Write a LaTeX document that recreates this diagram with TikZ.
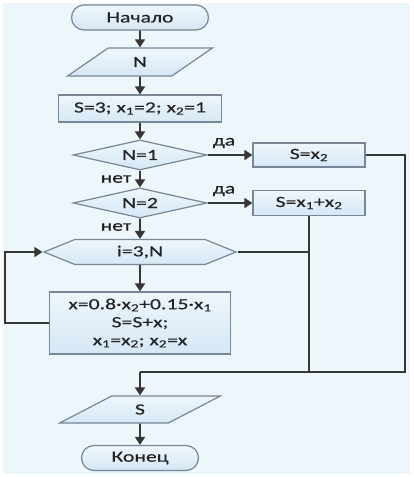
\documentclass[tikz,border=0pt]{standalone}
\usepackage{fontspec}
\setmainfont[FakeStretch=1.4,FakeBold=0.4]{Carlito}
\usetikzlibrary{arrows.meta,shapes.geometric,shapes.symbols,shapes.misc}
\definecolor{bg}{RGB}{236,246,251}
\definecolor{bord}{RGB}{120,134,150}
\definecolor{ln}{RGB}{55,55,55}
\definecolor{txt}{RGB}{35,35,35}
\definecolor{ftop}{RGB}{238,246,252}
\definecolor{fbot}{RGB}{214,232,245}
\newcommand\ssb[1]{\textsubscript{#1}}
\begin{document}
\begin{tikzpicture}[x=1pt,y=-1pt, font=\fontsize{15.5}{18}\selectfont, text=txt,
 shp/.style={draw=bord, line width=1.2pt, top color=ftop, bottom color=fbot, inner sep=0pt},
 term/.style={shp, rounded rectangle, minimum height=25pt},
 io/.style={shp, trapezium, trapezium left angle=48, trapezium right angle=132, trapezium stretches=true},
 proc/.style={shp, rectangle},
 dec/.style={shp, diamond, aspect=4.5, minimum width=134pt, minimum height=30pt},
 hexa/.style={shp, signal, signal to=east and west, signal pointer angle=44, minimum width=192pt, minimum height=25pt},
 conn/.style={draw=ln, line width=1.6pt},
 arr/.style={conn, -{Triangle[length=8pt,width=10pt]}},
 lbl/.style={text=txt}]
\useasboundingbox (0,0) rectangle (414,477);
\fill[bg] (3,3) rectangle (410,474);
\node[term, minimum width=137pt] (start) at (140,17.5) {Начало};
\node[io, minimum width=145pt, minimum height=28pt] (inN) at (140,62) {N};
\node[proc, minimum width=163pt, minimum height=27pt] (init) at (140,108.5) {S=3; x\ssb{1}=2; x\ssb{2}=1};
\node[dec] (d1) at (140,155) {N=1};
\node[dec] (d2) at (140,203) {N=2};
\node[proc, minimum width=112pt, minimum height=24pt] (r1) at (309,155) {S=x\ssb{2}};
\node[proc, minimum width=112pt, minimum height=25pt] (r2) at (309,203) {S=x\ssb{1}+x\ssb{2}};
\node[hexa] (loop) at (140,252) {i=3,N};
\node[proc, minimum width=181pt, minimum height=62pt, align=center] (body) at (140,323)
  {x=0.8·x\ssb{2}+0.15·x\ssb{1}\\S=S+x;\\x\ssb{1}=x\ssb{2}; x\ssb{2}=x};
\node[io, minimum width=161pt, minimum height=27pt] (out) at (140,409.5) {S};
\node[term, minimum width=117pt] (end) at (140,458) {Конец};
\node[lbl] (y1) at (224,143) {да};
\node[lbl] (y2) at (224,191) {да};
\node[lbl] (n1) at (116,179) {нет};
\node[lbl] (n2) at (116,227) {нет};
\coordinate (rr) at (405,155);
\coordinate (rb) at (405,372);
\coordinate (jn) at (140,372);
\coordinate (lb) at (5,323);
\coordinate (lt) at (5,252);
\draw[arr] (start) -- (inN);
\draw[arr] (inN) -- (init);
\draw[arr] (init) -- (d1);
\draw[arr] (d1) -- (r1);
\draw[arr] (d1) -- (d2);
\draw[arr] (d2) -- (r2);
\draw[arr] (d2) -- (loop);
\draw[arr] (loop) -- (body);
\draw[arr] (body.west) -- (lb) -- (lt) -- (loop.west);
\draw[conn] (r1.east) -- (rr) -- (rb) -- (jn);
\draw[conn] (r2.south) -- (r2.south |- rb);
\draw[conn] (loop.east) -- (loop.east -| r2.south);
\draw[arr] (jn) -- (out.north);
\draw[arr] (out) -- (end);
\end{tikzpicture}
\end{document}
